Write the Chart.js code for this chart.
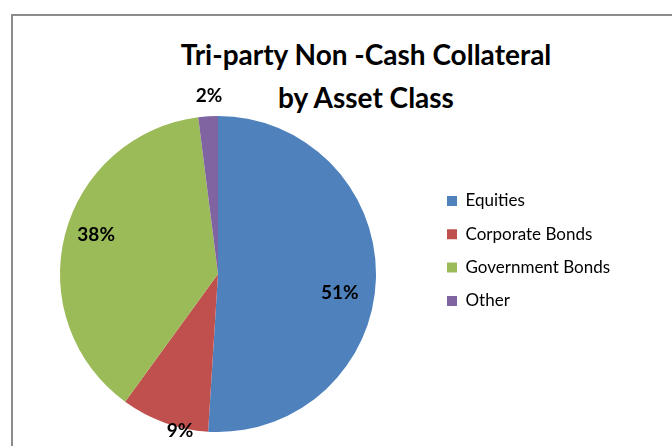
<!DOCTYPE html>
<html>
<head>
<meta charset="utf-8">
<script src="https://cdn.jsdelivr.net/npm/chart.js@4.4.1/dist/chart.umd.min.js"></script>
<style>
  html, body { margin: 0; padding: 0; background: #fff; width: 672px; height: 446px; overflow: hidden; }
  #frame { position: absolute; left: 11px; top: 14px; width: 760px; height: 520px; border: 2px solid #8c8c8c; }
  #pie { position: absolute; left: 0; top: 0; }
  #title {
    position: absolute; left: 116px; top: 33px; width: 500px;
    text-align: center; font: bold 28px/43px Lato, sans-serif; color: #000;
  }
</style>
</head>
<body>
<div id="frame"></div>
<div id="title"></div>
<canvas id="pie" width="672" height="446"></canvas>
<script>
const categories = ['Equities', 'Corporate Bonds', 'Government Bonds', 'Other'];
const shares = [51, 9, 38, 2];
const sliceColors = ['#4F81BD', '#C0504D', '#9BBB59', '#8064A2'];
const titleLines = ['Tri-party Non -Cash Collateral', 'by Asset Class'];

// where each % label sits: fraction of the radius, and a nudge (deg) off the slice middle
const labelRadius = [0.78, 1.02, 0.81, 1.13];
const labelShift = [7.1, -6.2, 3.4, 0.7];

const $ = (id) => document.getElementById(id);

$('title').innerHTML = titleLines.join('<br>');

// pie centre / radius and legend placement (px)
const cx = 218, cy = 274, pieR = 158;
const legendFont = { family: 'Lato', size: 17 };
const legendPad = 16.3;        // also the gap between legend rows
const legendBoxX = 447, legendFirstRow = 201;

// legend width as Chart.js computes it, so the chart area ends right where the legend starts
const mctx = document.createElement('canvas').getContext('2d');
mctx.font = `${legendFont.size}px ${legendFont.family}`;
const textW = Math.max(...categories.map(c => mctx.measureText(c).width));
const legendW = legendPad + 10 + legendFont.size / 2 + textW + 10;
const areaRight = legendBoxX - legendPad;
const areaLeft = 2 * cx - areaRight;
const areaTop = legendFirstRow - legendFont.size / 2 - legendPad;
const areaBottom = 2 * cy - areaTop;

// percentage labels drawn on top of the slices
const pctLabels = {
  id: 'pctLabels',
  afterDatasetsDraw(chart) {
    const ctx = chart.ctx;
    const arcs = chart.getDatasetMeta(0).data;
    ctx.save();
    ctx.font = 'bold 19px Lato, sans-serif';
    ctx.fillStyle = '#000';
    ctx.textAlign = 'center';
    ctx.textBaseline = 'middle';
    arcs.forEach((arc, i) => {
      const { x, y, startAngle, endAngle, outerRadius } =
        arc.getProps(['x', 'y', 'startAngle', 'endAngle', 'outerRadius'], true);
      const a = (startAngle + endAngle) / 2 + labelShift[i] * Math.PI / 180;
      const r = outerRadius * labelRadius[i];
      ctx.fillText(shares[i] + '%', x + Math.cos(a) * r, y + Math.sin(a) * r);
    });
    ctx.restore();
  },
};

new Chart($('pie'), {
  type: 'pie',
  data: {
    labels: categories,
    datasets: [{
      data: shares,
      backgroundColor: sliceColors,
      borderWidth: 0,
      clip: false,
    }],
  },
  options: {
    responsive: false,
    animation: false,
    devicePixelRatio: 1,
    radius: pieR,
    layout: {
      padding: {
        left: areaLeft,
        right: 672 - areaRight - legendW,
        top: areaTop,
        bottom: 446 - areaBottom,
      },
    },
    plugins: {
      legend: {
        position: 'right',
        align: 'start',
        labels: {
          boxWidth: 10,
          boxHeight: 10,
          padding: legendPad,
          color: '#000',
          font: legendFont,
        },
      },
      tooltip: { enabled: false },
    },
  },
  plugins: [pctLabels],
});
</script>
</body>
</html>
